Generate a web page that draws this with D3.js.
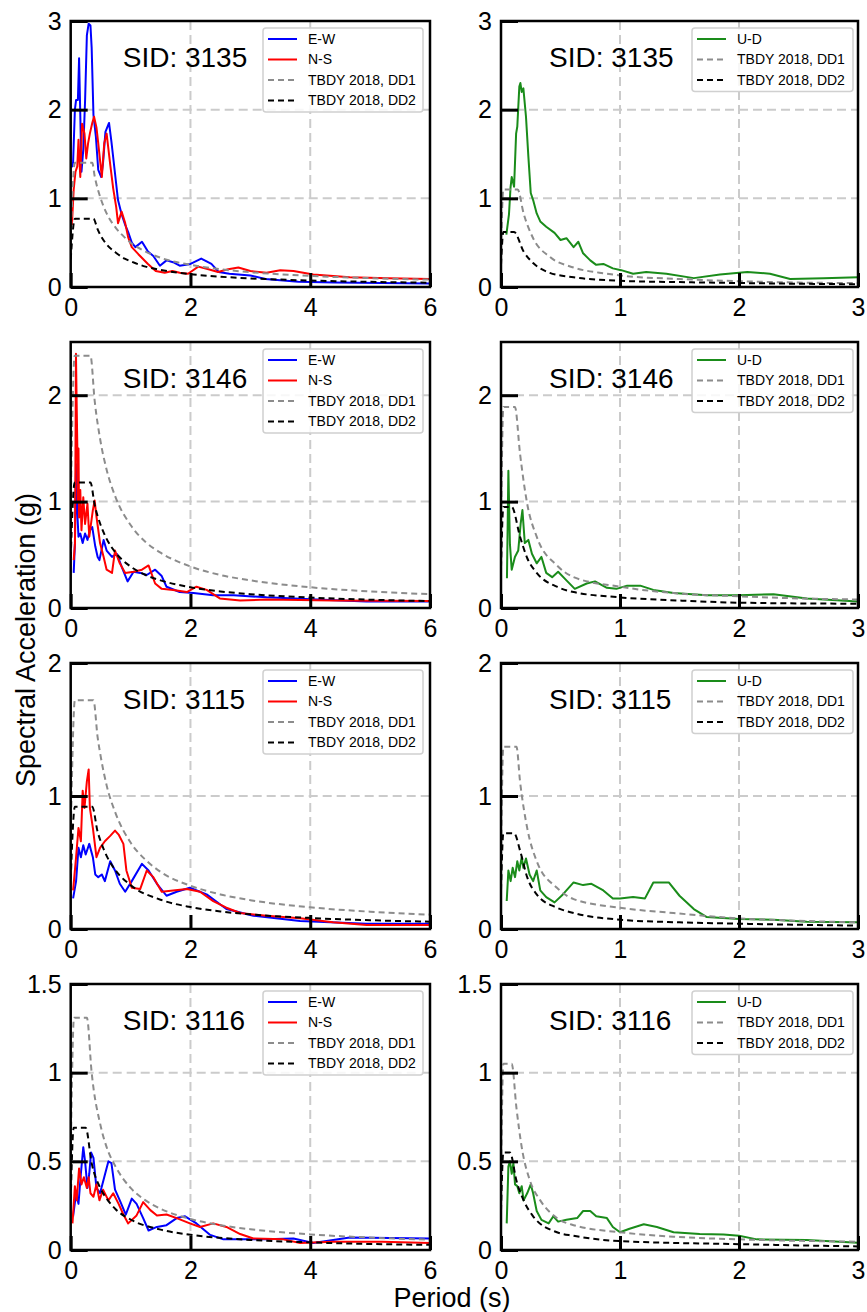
<!DOCTYPE html>
<html>
<head>
<meta charset="utf-8">
<script src="https://cdn.jsdelivr.net/npm/d3@7"></script>
<style>
  body { margin: 0; background: #fff; }
  svg text { font-family: "Liberation Sans", Arial, Helvetica, sans-serif; fill: #000; }
</style>
</head>
<body>
<div id="chart"></div>
<script>
// ---- recorded spectra, [period (s), Sa (g)] ----
var ew3135 = [[0.02,1.35],[0.04,1.41],[0.07,2.0],[0.09,2.11],[0.12,2.11],[0.14,2.58],[0.16,1.95],[0.18,1.30],[0.21,1.55],[0.24,2.1],[0.27,2.84],[0.30,2.97],[0.33,2.95],[0.35,2.7],[0.38,1.94],[0.42,1.70],[0.46,1.32],[0.51,1.24],[0.54,1.40],[0.58,1.75],[0.64,1.85],[0.68,1.64],[0.74,1.28],[0.79,0.98],[0.85,0.82],[0.91,0.70],[0.96,0.62],[1.02,0.50],[1.08,0.45],[1.19,0.51],[1.29,0.40],[1.38,0.35],[1.49,0.24],[1.60,0.30],[1.71,0.28],[1.82,0.24],[2.0,0.26],[2.18,0.32],[2.35,0.26],[2.47,0.17],[2.65,0.15],[3.0,0.13],[3.25,0.09],[3.8,0.06],[4.4,0.05],[5.2,0.045],[6.0,0.04]];
var ns3135 = [[0.02,0.70],[0.05,1.10],[0.08,1.30],[0.11,1.36],[0.13,1.66],[0.16,1.24],[0.19,1.84],[0.23,1.73],[0.26,1.45],[0.29,1.62],[0.32,1.73],[0.36,1.85],[0.39,1.92],[0.43,1.80],[0.46,1.62],[0.52,1.24],[0.56,1.62],[0.60,1.73],[0.66,1.38],[0.71,1.11],[0.76,0.90],[0.79,0.72],[0.85,0.85],[0.91,0.72],[0.96,0.56],[1.02,0.45],[1.13,0.37],[1.29,0.26],[1.42,0.18],[1.57,0.16],[1.70,0.18],[1.82,0.16],[1.96,0.15],[2.13,0.23],[2.30,0.20],[2.46,0.17],[2.63,0.20],[2.80,0.22],[3.0,0.18],[3.27,0.16],[3.5,0.19],[3.72,0.18],[4.05,0.14],[4.66,0.11],[5.3,0.10],[6.0,0.09]];
var ud3135 = [[0.045,0.59],[0.067,0.82],[0.08,1.12],[0.09,1.24],[0.11,1.13],[0.127,1.73],[0.137,1.81],[0.154,2.26],[0.163,2.30],[0.174,2.20],[0.188,2.24],[0.21,1.92],[0.23,1.47],[0.25,1.06],[0.27,0.98],[0.30,0.83],[0.33,0.74],[0.38,0.68],[0.45,0.61],[0.50,0.53],[0.55,0.55],[0.61,0.45],[0.65,0.51],[0.69,0.38],[0.75,0.30],[0.80,0.25],[0.86,0.26],[0.94,0.21],[1.01,0.19],[1.11,0.15],[1.22,0.17],[1.39,0.15],[1.62,0.10],[1.84,0.14],[2.07,0.17],[2.26,0.15],[2.43,0.09],[2.71,0.10],[3.0,0.11]];

var ew3146 = [[0.05,0.33],[0.07,0.6],[0.09,1.35],[0.11,0.9],[0.13,0.67],[0.16,0.70],[0.20,0.61],[0.24,0.70],[0.28,0.64],[0.32,0.73],[0.36,0.76],[0.41,0.58],[0.45,0.48],[0.48,0.45],[0.55,0.64],[0.60,0.54],[0.69,0.48],[0.77,0.51],[0.85,0.39],[0.95,0.25],[1.05,0.34],[1.16,0.33],[1.27,0.31],[1.41,0.36],[1.52,0.30],[1.60,0.20],[1.82,0.15],[2.05,0.14],[2.38,0.12],[2.72,0.12],[3.27,0.10],[4.11,0.08],[4.94,0.06],[6.0,0.06]];
var ns3146 = [[0.05,0.45],[0.072,0.61],[0.088,2.39],[0.10,1.9],[0.11,1.54],[0.12,1.0],[0.13,1.5],[0.14,0.85],[0.16,1.11],[0.18,0.73],[0.21,1.04],[0.24,0.79],[0.28,0.98],[0.31,0.67],[0.37,0.92],[0.40,1.01],[0.43,0.86],[0.49,0.61],[0.55,0.48],[0.60,0.36],[0.69,0.33],[0.74,0.54],[0.82,0.42],[0.91,0.33],[1.05,0.34],[1.19,0.36],[1.30,0.40],[1.41,0.23],[1.52,0.18],[1.71,0.17],[1.94,0.15],[2.10,0.20],[2.27,0.17],[2.49,0.09],[2.83,0.07],[3.27,0.08],[4.38,0.07],[6.0,0.065]];
var ud3146 = [[0.05,0.28],[0.062,1.29],[0.075,0.60],[0.09,0.36],[0.117,0.48],[0.145,0.54],[0.165,0.79],[0.18,0.92],[0.20,0.61],[0.23,0.64],[0.26,0.51],[0.30,0.42],[0.34,0.48],[0.38,0.33],[0.43,0.29],[0.48,0.34],[0.55,0.26],[0.62,0.18],[0.72,0.23],[0.79,0.25],[0.89,0.19],[0.97,0.18],[1.06,0.21],[1.17,0.21],[1.28,0.17],[1.45,0.14],[1.73,0.12],[2.0,0.12],[2.29,0.13],[2.57,0.09],[3.0,0.06]];

var ew3115 = [[0.04,0.23],[0.09,0.36],[0.13,0.61],[0.17,0.54],[0.21,0.63],[0.25,0.56],[0.31,0.64],[0.37,0.54],[0.41,0.41],[0.46,0.39],[0.52,0.41],[0.57,0.36],[0.66,0.51],[0.74,0.44],[0.82,0.34],[0.91,0.28],[1.02,0.36],[1.19,0.49],[1.30,0.44],[1.44,0.34],[1.60,0.25],[1.77,0.28],[1.99,0.31],[2.27,0.26],[2.6,0.15],[3.05,0.10],[3.83,0.06],[4.94,0.04],[6.0,0.04]];
var ns3115 = [[0.04,0.29],[0.09,0.54],[0.13,0.76],[0.17,0.66],[0.20,1.04],[0.23,0.91],[0.27,1.11],[0.30,1.20],[0.32,0.91],[0.37,0.76],[0.43,0.54],[0.49,0.61],[0.57,0.66],[0.66,0.70],[0.74,0.74],[0.80,0.71],[0.88,0.64],[0.93,0.44],[1.02,0.31],[1.16,0.30],[1.27,0.44],[1.38,0.39],[1.52,0.28],[1.71,0.29],[1.94,0.30],[2.16,0.28],[2.38,0.21],[2.6,0.16],[2.83,0.12],[3.27,0.10],[3.83,0.08],[4.38,0.05],[4.94,0.03],[6.0,0.03]];
var ud3115 = [[0.048,0.21],[0.062,0.44],[0.081,0.36],[0.098,0.46],[0.118,0.39],[0.137,0.51],[0.154,0.44],[0.174,0.54],[0.188,0.46],[0.21,0.53],[0.24,0.41],[0.27,0.36],[0.30,0.44],[0.33,0.29],[0.38,0.24],[0.45,0.20],[0.52,0.26],[0.61,0.35],[0.69,0.33],[0.76,0.34],[0.86,0.29],[0.94,0.23],[1.0,0.23],[1.11,0.24],[1.21,0.23],[1.28,0.35],[1.41,0.35],[1.50,0.25],[1.62,0.15],[1.73,0.09],[2.0,0.075],[2.29,0.07],[2.57,0.055],[3.0,0.05]];

var ew3116 = [[0.04,0.19],[0.09,0.32],[0.13,0.26],[0.17,0.43],[0.21,0.58],[0.24,0.50],[0.28,0.35],[0.31,0.43],[0.34,0.55],[0.38,0.52],[0.43,0.35],[0.49,0.32],[0.56,0.41],[0.63,0.50],[0.68,0.49],[0.74,0.34],[0.82,0.28],[0.92,0.20],[1.02,0.29],[1.10,0.26],[1.21,0.18],[1.30,0.11],[1.44,0.13],[1.60,0.14],[1.77,0.18],[1.91,0.19],[2.10,0.15],[2.33,0.085],[2.55,0.06],[2.83,0.06],[3.27,0.06],[3.72,0.065],[4.05,0.04],[4.66,0.07],[6.0,0.065]];
var ns3116 = [[0.03,0.15],[0.07,0.36],[0.10,0.28],[0.14,0.46],[0.18,0.37],[0.22,0.41],[0.27,0.35],[0.30,0.41],[0.33,0.32],[0.38,0.30],[0.43,0.37],[0.48,0.28],[0.54,0.34],[0.63,0.28],[0.71,0.32],[0.80,0.26],[0.88,0.20],[0.96,0.15],[1.10,0.195],[1.21,0.27],[1.33,0.225],[1.44,0.195],[1.60,0.20],[1.77,0.18],[1.99,0.15],[2.16,0.13],[2.38,0.15],[2.60,0.13],[2.83,0.09],[3.05,0.065],[3.55,0.06],[3.83,0.04],[4.38,0.047],[5.2,0.047],[6.0,0.04]];
var ud3116 = [[0.048,0.15],[0.062,0.47],[0.075,0.50],[0.09,0.43],[0.104,0.49],[0.118,0.37],[0.137,0.36],[0.154,0.32],[0.174,0.36],[0.19,0.28],[0.22,0.32],[0.25,0.37],[0.27,0.32],[0.30,0.22],[0.34,0.17],[0.40,0.15],[0.44,0.19],[0.48,0.16],[0.55,0.17],[0.64,0.18],[0.69,0.22],[0.75,0.22],[0.80,0.19],[0.89,0.18],[0.94,0.13],[1.0,0.10],[1.08,0.12],[1.20,0.145],[1.31,0.13],[1.45,0.10],[1.67,0.09],[1.87,0.088],[2.0,0.08],[2.15,0.06],[2.57,0.057],[3.0,0.041]];

// ---- TBDY 2018 design spectra ----
var dd1_3135 = [[0,0.56],[0.07,1.40],[0.36,1.40],[0.4,1.25],[0.5,1.0],[0.6,0.83],[0.75,0.67],[0.9,0.56],[1.0,0.50],[1.25,0.40],[1.5,0.33],[2.0,0.25],[2.5,0.20],[3.0,0.167],[4.0,0.125],[5.0,0.10],[6.0,0.083]];
var dd2_3135 = [[0,0.31],[0.07,0.77],[0.38,0.77],[0.45,0.65],[0.5,0.58],[0.6,0.48],[0.75,0.39],[0.9,0.32],[1.0,0.29],[1.25,0.23],[1.5,0.193],[2.0,0.145],[2.5,0.116],[3.0,0.097],[4.0,0.073],[5.0,0.058],[6.0,0.048]];
var dd1v_3135 = [[0,0.44],[0.02,1.10],[0.14,1.10],[0.19,0.83],[0.27,0.55],[0.41,0.34],[0.61,0.22],[0.89,0.15],[1.0,0.13],[1.5,0.09],[2.0,0.065],[2.5,0.05],[3.0,0.044]];
var dd2v_3135 = [[0,0.25],[0.02,0.62],[0.11,0.62],[0.19,0.40],[0.27,0.27],[0.41,0.16],[0.61,0.11],[1.0,0.07],[1.5,0.055],[2.0,0.045],[3.0,0.03]];

var dd1_3146 = [[0,0.95],[0.066,2.37],[0.33,2.37],[0.4,1.95],[0.5,1.56],[0.6,1.30],[0.75,1.04],[1.0,0.78],[1.25,0.62],[1.5,0.52],[2.0,0.39],[2.5,0.31],[3.0,0.26],[4.0,0.195],[5.0,0.156],[6.0,0.13]];
var dd2_3146 = [[0,0.47],[0.066,1.18],[0.33,1.18],[0.4,0.97],[0.5,0.78],[0.6,0.65],[0.75,0.52],[1.0,0.39],[1.25,0.31],[1.5,0.26],[2.0,0.195],[2.5,0.156],[3.0,0.13],[4.0,0.098],[5.0,0.078],[6.0,0.065]];
var dd1v_3146 = [[0,0.76],[0.02,1.89],[0.117,1.89],[0.16,1.45],[0.22,0.98],[0.30,0.67],[0.47,0.40],[0.61,0.29],[1.0,0.20],[1.45,0.14],[2.0,0.11],[2.5,0.09],[3.0,0.08]];
var dd2v_3146 = [[0,0.38],[0.02,0.95],[0.09,0.95],[0.16,0.67],[0.22,0.47],[0.30,0.33],[0.47,0.20],[0.61,0.15],[1.0,0.10],[1.5,0.07],[2.0,0.05],[3.0,0.04]];

var dd1_3115 = [[0,0.69],[0.07,1.72],[0.38,1.72],[0.45,1.44],[0.5,1.30],[0.6,1.08],[0.75,0.87],[1.0,0.65],[1.25,0.52],[1.5,0.43],[2.0,0.325],[2.5,0.26],[3.0,0.217],[4.0,0.163],[5.0,0.13],[6.0,0.108]];
var dd2_3115 = [[0,0.37],[0.07,0.92],[0.36,0.92],[0.45,0.73],[0.5,0.66],[0.6,0.55],[0.75,0.44],[1.0,0.33],[1.5,0.22],[2.0,0.165],[2.5,0.132],[3.0,0.11],[4.0,0.083],[5.0,0.066],[6.0,0.055]];
var dd1v_3115 = [[0,0.55],[0.02,1.37],[0.13,1.37],[0.16,1.11],[0.22,0.76],[0.30,0.51],[0.47,0.31],[0.61,0.225],[1.0,0.16],[1.45,0.12],[2.0,0.08],[2.5,0.062],[3.0,0.05]];
var dd2v_3115 = [[0,0.29],[0.02,0.72],[0.11,0.72],[0.16,0.59],[0.22,0.39],[0.30,0.26],[0.47,0.16],[0.61,0.12],[1.0,0.07],[1.5,0.05],[2.0,0.04],[3.0,0.025]];

var dd1_3116 = [[0,0.52],[0.055,1.31],[0.27,1.31],[0.35,1.0],[0.5,0.70],[0.6,0.58],[0.75,0.47],[1.0,0.35],[1.25,0.28],[1.5,0.233],[2.0,0.175],[2.5,0.14],[3.0,0.117],[4.0,0.088],[5.0,0.07],[6.0,0.058]];
var dd2_3116 = [[0,0.28],[0.05,0.69],[0.25,0.69],[0.35,0.49],[0.5,0.345],[0.6,0.29],[0.75,0.23],[1.0,0.172],[1.5,0.115],[2.0,0.086],[3.0,0.057],[4.0,0.043],[5.0,0.034],[6.0,0.029]];
var dd1v_3116 = [[0,0.42],[0.02,1.05],[0.09,1.05],[0.13,0.80],[0.174,0.58],[0.244,0.39],[0.33,0.28],[0.47,0.18],[0.61,0.14],[1.0,0.10],[1.45,0.075],[2.0,0.06],[3.0,0.047]];
var dd2v_3116 = [[0,0.22],[0.02,0.55],[0.075,0.55],[0.13,0.39],[0.19,0.28],[0.27,0.19],[0.47,0.10],[0.61,0.08],[1.0,0.05],[2.0,0.033],[3.0,0.02]];

// ---- axes / labels ----
var stations = ["3135", "3146", "3115", "3116"];
var yMax = [3, 2.5, 2, 1.5];
var yTicks = [[0,1,2,3], [0,1,2], [0,1,2], [0,0.5,1,1.5]];
var xTicksH = [0,2,4,6];
var xTicksV = [0,1,2,3];

var horiz = [[ew3135, ns3135, dd1_3135, dd2_3135],
             [ew3146, ns3146, dd1_3146, dd2_3146],
             [ew3115, ns3115, dd1_3115, dd2_3115],
             [ew3116, ns3116, dd1_3116, dd2_3116]];
var vert  = [[ud3135, dd1v_3135, dd2v_3135],
             [ud3146, dd1v_3146, dd2v_3146],
             [ud3115, dd1v_3115, dd2v_3115],
             [ud3116, dd1v_3116, dd2v_3116]];

var W = 867, H = 1312;
var rowTop = [21, 342, 663, 984], ph = 266;
var colLeft = [70.7, 501], colW = [359.3, 357];

var svg = d3.select("#chart").append("svg")
    .attr("width", W)
    .attr("height", H);

var styleEW = { name: "E-W", color: "#0000ff", dash: null, width: 2 };
var styleNS = { name: "N-S", color: "#ff0000", dash: null, width: 2 };
var styleUD = { name: "U-D", color: "#1a8c1a", dash: null, width: 2 };
var styleD1 = { name: "TBDY 2018, DD1", color: "#8c8c8c", dash: "6,4", width: 2, smooth: true };
var styleD2 = { name: "TBDY 2018, DD2", color: "#000000", dash: "6,4", width: 2, smooth: true };

function drawPanel(r, c) {
    var left = colLeft[c], top = rowTop[r], w = colW[c];
    var xmax = c === 0 ? 6 : 3;
    var xt = c === 0 ? xTicksH : xTicksV;
    var series = c === 0
        ? [[horiz[r][0], styleEW], [horiz[r][1], styleNS], [horiz[r][2], styleD1], [horiz[r][3], styleD2]]
        : [[vert[r][0], styleUD], [vert[r][1], styleD1], [vert[r][2], styleD2]];

    var x = d3.scaleLinear().domain([0, xmax]).range([0, w]);
    var y = d3.scaleLinear().domain([0, yMax[r]]).range([ph, 0]);

    var g = svg.append("g").attr("transform", "translate(" + left + "," + top + ")");
    var id = "clip" + r + "_" + c;
    g.append("clipPath").attr("id", id)
        .append("rect").attr("width", w).attr("height", ph);

    // dashed grid
    g.append("g").selectAll("line").data(xt.slice(1, -1)).enter().append("line")
        .attr("x1", function (d) { return x(d); }).attr("x2", function (d) { return x(d); })
        .attr("y1", 0).attr("y2", ph)
        .attr("stroke", "#cbcbcb").attr("stroke-width", 2).attr("stroke-dasharray", "9,5");
    g.append("g").selectAll("line").data(yTicks[r].filter(function (d) { return d > 0 && d < yMax[r]; })).enter().append("line")
        .attr("x1", 0).attr("x2", w)
        .attr("y1", function (d) { return y(d); }).attr("y2", function (d) { return y(d); })
        .attr("stroke", "#cbcbcb").attr("stroke-width", 2).attr("stroke-dasharray", "9,5");

    // spectra
    var plot = g.append("g").attr("clip-path", "url(#" + id + ")");
    series.forEach(function (s) {
        var line = d3.line()
            .x(function (d) { return x(d[0]); })
            .y(function (d) { return y(d[1]); })
            .curve(s[1].smooth ? d3.curveMonotoneX : d3.curveLinear);
        plot.append("path")
            .datum(s[0])
            .attr("fill", "none")
            .attr("stroke", s[1].color)
            .attr("stroke-width", s[1].width)
            .attr("stroke-dasharray", s[1].dash)
            .attr("stroke-linejoin", "round")
            .attr("d", line);
    });

    // axes with inward ticks
    var xAxis = g.append("g").attr("transform", "translate(0," + ph + ")")
        .call(d3.axisBottom(x).tickValues(xt).tickSizeInner(-14).tickSizeOuter(0).tickPadding(11)
            .tickFormat(function (d) { return String(d); }));
    var yAxis = g.append("g")
        .call(d3.axisLeft(y).tickValues(yTicks[r]).tickSizeInner(-17).tickSizeOuter(0).tickPadding(9)
            .tickFormat(function (d) { return String(d); }));
    [xAxis, yAxis].forEach(function (a) {
        a.select(".domain").remove();
        a.selectAll(".tick line").attr("stroke", "#000").attr("stroke-width", 3);
        a.selectAll(".tick text").style("font-size", "25px")
            .style("font-family", '"Liberation Sans", Arial, sans-serif');
    });

    // frame
    g.append("rect").attr("width", w).attr("height", ph)
        .attr("fill", "none").attr("stroke", "#000").attr("stroke-width", 2.5);

    // station id
    g.append("text")
        .attr("x", c === 0 ? 52 : 48).attr("y", 46)
        .style("font-size", "28px")
        .text("SID: " + stations[r]);

    // legend
    var lw = c === 0 ? 160 : 161;
    var lx = c === 0 ? w - 167 : w - 166;
    var lg = g.append("g").attr("transform", "translate(" + lx + ",7)");
    lg.append("rect")
        .attr("width", lw).attr("height", 2 + series.length * 20.5)
        .attr("rx", 3)
        .attr("fill", "#fff").attr("fill-opacity", 0.85)
        .attr("stroke", "#d0d0d0").attr("stroke-width", 1.5);
    series.forEach(function (s, i) {
        var yy = 11 + i * 20.5;
        lg.append("line")
            .attr("x1", 5).attr("x2", 34).attr("y1", yy).attr("y2", yy)
            .attr("stroke", s[1].color).attr("stroke-width", 2)
            .attr("stroke-dasharray", s[1].dash);
        lg.append("text")
            .attr("x", 45).attr("y", yy).attr("dy", "0.35em")
            .style("font-size", "14px")
            .text(s[1].name);
    });
}

for (var r = 0; r < 4; r++) {
    drawPanel(r, 0);
    drawPanel(r, 1);
}

// shared axis titles
svg.append("text")
    .attr("transform", "translate(35,640) rotate(-90)")
    .attr("text-anchor", "middle")
    .style("font-size", "27px")
    .text("Spectral Acceleration (g)");

svg.append("text")
    .attr("x", 452).attr("y", 1307)
    .attr("text-anchor", "middle")
    .style("font-size", "27px")
    .text("Period (s)");
</script>
</body>
</html>
